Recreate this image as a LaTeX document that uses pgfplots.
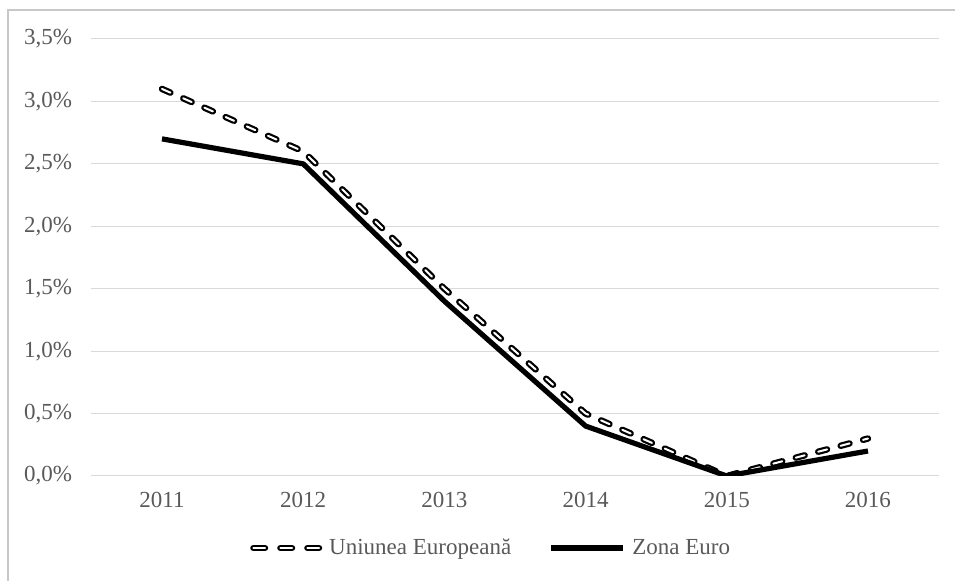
\documentclass[border=0pt]{standalone}
\usepackage{fontspec}
\setmainfont{Liberation Serif}
\usepackage{pgfplots}
\pgfplotsset{compat=1.18}

\definecolor{txtgray}{RGB}{89,89,89}
\definecolor{gridgray}{RGB}{217,217,217}
\definecolor{framegray}{RGB}{200,200,200}

% legend sample for the hollow dashed series
\pgfplotsset{
  dashlegend/.style={
    legend image code/.code={\draw[##1, dash pattern=on 5.8pt off 7.7pt] (1.6pt,0pt) -- (34.4pt,0pt);}
  }
}

\begin{document}
\begin{tikzpicture}
\useasboundingbox (0,0) rectangle (477.5pt,290.5pt);
% outer frame
\draw[framegray, line width=0.9pt] (4pt,0pt) -- (4pt,285.5pt) -- (477.5pt,285.5pt);

\begin{axis}[
  at={(45.7pt,52.5pt)}, anchor=south west,
  scale only axis,
  width=423.6pt, height=218.5pt,
  xmin=-0.5, xmax=5.5,
  ymin=0, ymax=3.5,
  axis line style={draw=none},
  major tick length=0pt,
  xtick={0,1,2,3,4,5},
  xticklabels={2011,2012,2013,2014,2015,2016},
  ytick={0,0.5,1,1.5,2,2.5,3,3.5},
  yticklabels={{0,0\%},{0,5\%},{1,0\%},{1,5\%},{2,0\%},{2,5\%},{3,0\%},{3,5\%}},
  ymajorgrids,
  grid style={gridgray, line width=0.5pt},
  tick label style={font=\fontsize{11.5}{13}\selectfont, text=txtgray},
  xticklabel style={anchor=base, inner sep=0pt, yshift=-16pt},
  yticklabel style={anchor=east, inner sep=0pt, xshift=-9.5pt},
  legend columns=2,
  legend cell align=left,
  legend style={
    at={(axis description cs:0.187,-0.165)}, anchor=west,
    draw=none, fill=none, inner sep=0pt,
    font=\fontsize{11.5}{13}\selectfont, text=txtgray,
    /tikz/every odd column/.append style={column sep=2pt},
    /tikz/every even column/.append style={column sep=17pt},
    nodes={inner sep=1.5pt},
  },
  legend image code/.code={\draw[#1] (0pt,0pt) -- (36pt,0pt);},
]
% Uniunea Europeana: hollow dashed line
\addplot[draw=black, line width=1.1pt, double=white, double distance=1pt,
  line cap=round, line join=round, dash pattern=on 4.6pt off 7pt, dashlegend]
  coordinates {(0,3.1) (1,2.6) (2,1.5) (3,0.5) (4,0.0) (5,0.3)};
\addlegendentry{Uniunea Europeană}
% Zona Euro: solid line
\addplot[draw=black, line width=2.6pt, line join=round]
  coordinates {(0,2.7) (1,2.5) (2,1.4) (3,0.4) (4,0.0) (5,0.2)};
\addlegendentry{Zona Euro}
\end{axis}
\end{tikzpicture}
\end{document}
